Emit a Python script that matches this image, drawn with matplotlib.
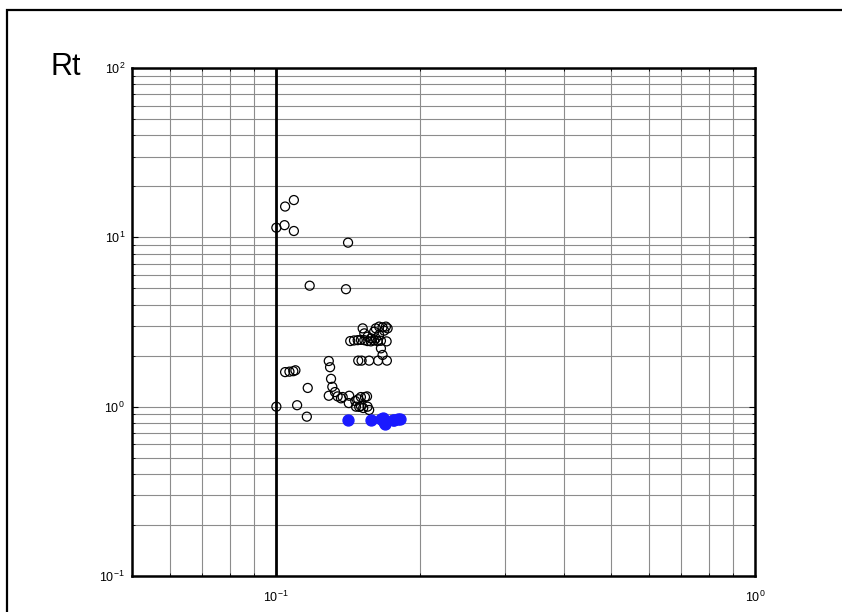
import matplotlib.pyplot as plt
from matplotlib.patches import Rectangle

plt.rcParams['font.family'] = ['Liberation Sans', 'DejaVu Sans']
plt.rcParams['mathtext.default'] = 'regular'

# open circles (x, Rt)
x_open = [0.1089, 0.1044, 0.1001, 0.1041, 0.1089, 0.1413, 0.1175, 0.1399,
          0.1001, 0.1044, 0.1066, 0.1086, 0.1097, 0.1106, 0.1164, 0.1159,
          0.1288, 0.1296, 0.1302, 0.1310, 0.1327, 0.1288, 0.1344, 0.1366, 0.1377,
          0.1421, 0.1418, 0.1463, 0.1484, 0.1503, 0.1533, 0.1548,
          0.1468, 0.1491, 0.1503, 0.1520, 0.1552, 0.1564,
          0.1428, 0.1454, 0.1480, 0.1503, 0.1528, 0.1552, 0.1577, 0.1602, 0.1629, 0.1655, 0.1701,
          0.1516, 0.1528, 0.1552, 0.1577, 0.1602, 0.1615, 0.1641, 0.1668, 0.1695, 0.1709, 0.1681, 0.1641, 0.1615,
          0.1655, 0.1668,
          0.1484, 0.1508, 0.1564, 0.1633, 0.1703]
y_open = [16.6, 15.2, 11.4, 11.8, 10.9, 9.30, 5.18, 4.94,
          1.00, 1.60, 1.61, 1.62, 1.64, 1.02, 1.29, 0.873,
          1.86, 1.71, 1.46, 1.31, 1.22, 1.16, 1.15, 1.12, 1.14,
          1.16, 1.05, 1.08, 1.106, 1.14, 1.14, 1.15,
          1.00, 0.997, 1.01, 0.982, 1.00, 0.956,
          2.44, 2.46, 2.47, 2.48, 2.47, 2.44, 2.43, 2.46, 2.44, 2.45, 2.43,
          2.90, 2.71, 2.59, 2.53, 2.77, 2.90, 2.97, 2.94, 2.97, 2.90, 2.81, 2.65, 2.53,
          2.21, 2.02,
          1.87, 1.87, 1.87, 1.87, 1.87]

# filled blue points
x_blue = [0.1415, 0.1577, 0.1655, 0.1668, 0.1681, 0.1687, 0.1751, 0.1764, 0.1793, 0.1815]
y_blue = [0.835, 0.835, 0.845, 0.854, 0.815, 0.79, 0.835, 0.835, 0.843, 0.85]

fig = plt.figure(figsize=(8.42, 6.12), dpi=100)
ax = fig.add_axes([132/842, 1 - 576/612, (755 - 132)/842, (576 - 68)/612])

ax.set_xscale('log')
ax.set_yscale('log')
ax.set_xlim(0.05, 1.0)
ax.set_ylim(0.1, 100)

ax.grid(True, which='both', color='#8c8c8c', linewidth=0.8)
ax.axvline(0.1, color='black', linewidth=2.0, zorder=2)

ax.scatter(x_open, y_open, s=42, facecolors='none', edgecolors='black', linewidths=0.9, zorder=3)
ax.scatter(x_blue, y_blue, s=62, color='#1a1aff', edgecolors='#1a1aff', zorder=4)

for s in ax.spines.values():
    s.set_linewidth(1.8)
    s.set_zorder(5)
ax.tick_params(which='both', direction='in', top=True, right=True, labelsize=9)
ax.tick_params(which='major', length=4, pad=10)
ax.tick_params(which='minor', length=2)
ax.tick_params(axis='y', which='major', pad=5)

fig.text(66/842, 1 - 67/612, 'Rt', fontsize=22, ha='center', va='center')

fig.patches.append(Rectangle((7/842, -0.1), 1.2, 1.1 - 10/612, transform=fig.transFigure,
                             fill=False, edgecolor='black', linewidth=1.6))

fig.savefig('out.png', dpi=100)
